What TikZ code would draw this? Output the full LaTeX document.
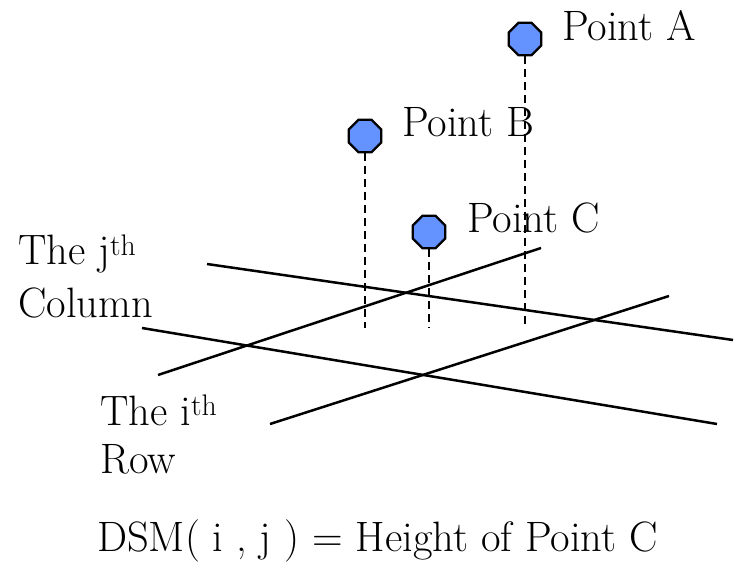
\documentclass[tikz,border=0pt]{standalone}
\usetikzlibrary{shapes.geometric}
\definecolor{ptblue}{RGB}{100,146,255}
\begin{document}
\begin{tikzpicture}[x=1pt,y=-1pt,
  lbl/.style={anchor=base west,inner sep=0pt,font=\fontsize{42.5}{50}\selectfont},
  pt/.style={regular polygon,regular polygon sides=8,minimum size=35pt,inner sep=0pt,draw=black,line width=2.3pt,fill=ptblue},
  gridline/.style={line width=2.5pt},
  drop/.style={line width=2.5pt,dash pattern=on 8pt off 5pt}]
\useasboundingbox (0,0) rectangle (734,564);
% grid lines
\coordinate (c1a) at (207,264); \coordinate (c1b) at (733,340);
\coordinate (c2a) at (142,328); \coordinate (c2b) at (717,424);
\coordinate (r1a) at (158,375); \coordinate (r1b) at (541,248);
\coordinate (r2a) at (270,424); \coordinate (r2b) at (669,296);
\draw[gridline] (c1a) -- (c1b);
\draw[gridline] (c2a) -- (c2b);
\draw[gridline] (r1a) -- (r1b);
\draw[gridline] (r2a) -- (r2b);
% points
\node[pt] (pa) at (525,39) {};
\node[pt] (pb) at (365,136) {};
\node[pt] (pc) at (429,232) {};
\coordinate (pa0) at (525,328);
\coordinate (pb0) at (365,328);
\coordinate (pc0) at (429,328);
\draw[drop] (pa.south) -- (pa0);
\draw[drop] (pb.south) -- (pb0);
\draw[drop] (pc.south) -- (pc0);
% labels
\node[lbl] (la) at (562,41) {Point A};
\node[lbl] (lb) at (402,137) {Point B};
\node[lbl] (lc) at (467,233) {Point C};
\node[lbl] (lj) at (18,265) {The j\textsuperscript{th}};
\node[lbl] (lcol) at (18,317) {Column};
\node[lbl] (li) at (100,425) {The i\textsuperscript{th}};
\node[lbl] (lrow) at (100,473) {Row};
\node[lbl] (ldsm) at (97,551) {DSM( i , j ) = Height of Point C};
\end{tikzpicture}
\end{document}
